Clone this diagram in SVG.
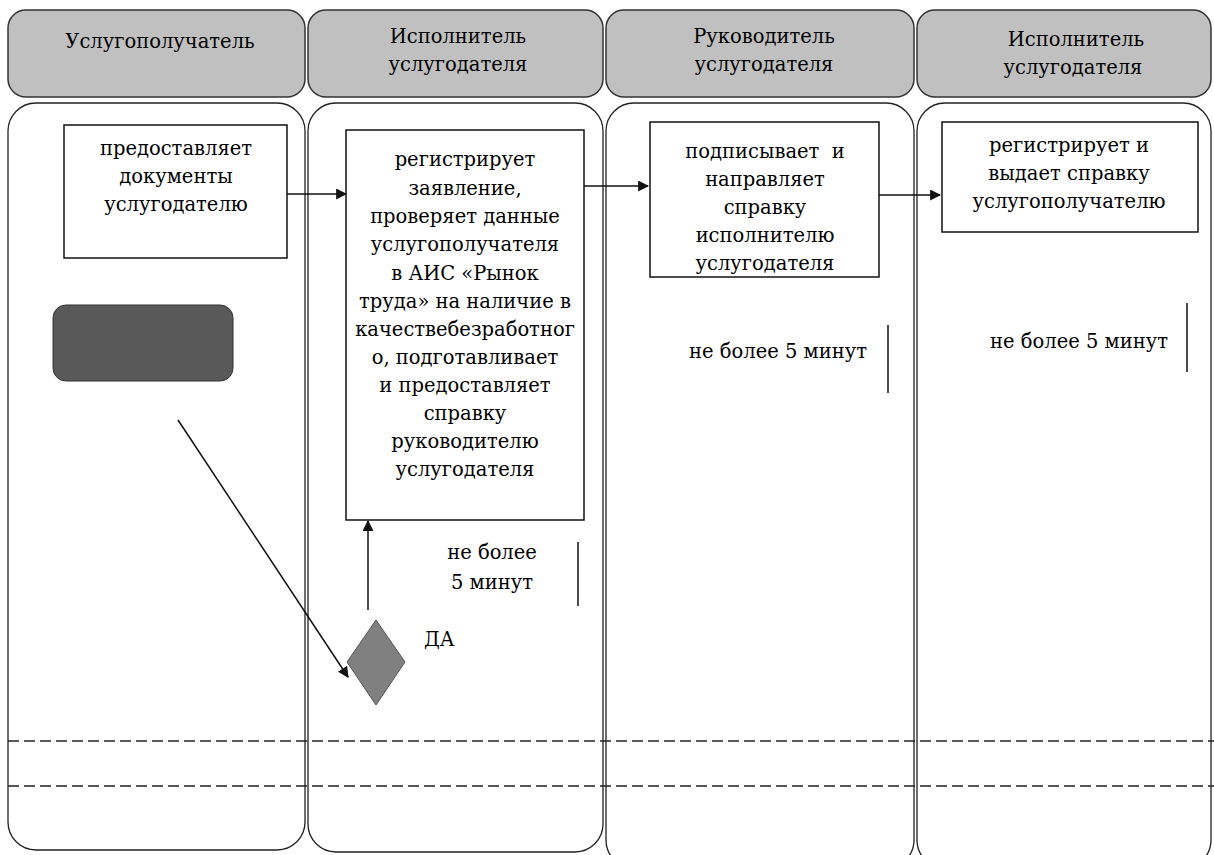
<svg xmlns="http://www.w3.org/2000/svg" width="1214" height="855" viewBox="0 0 1214 855">
<style>
.hdr{fill:#c0c0c0;stroke:#333;stroke-width:1.5}
.lane{fill:#fff;stroke:#222;stroke-width:1.3}
.box{fill:#fff;stroke:#111;stroke-width:1.5}
.t{font-family:"DejaVu Serif",serif;font-size:19.5px;fill:#000;text-anchor:middle}
.tl{font-family:"DejaVu Serif",serif;font-size:19.5px;fill:#000}
.c{stroke:#111;stroke-width:1.5;fill:none}
.dash{stroke:#222;stroke-width:1.6;stroke-dasharray:11,5;fill:none}
</style>
<defs>
<marker id="ah" viewBox="0 0 10 10" refX="9" refY="5" markerWidth="11" markerHeight="11" markerUnits="userSpaceOnUse" orient="auto">
<path d="M0,0 L10,5 L0,10 z" fill="#111"/>
</marker>
</defs>
<g id="lane1">
<rect class="hdr" x="8" y="10" width="297" height="87" rx="18"/>
<rect class="lane" x="8" y="103" width="297" height="747" rx="28"/>
<text class="t" x="160" y="48">Услугополучатель</text>
</g>
<g id="lane2">
<rect class="hdr" x="308" y="10" width="295" height="87" rx="18"/>
<rect class="lane" x="308" y="103" width="295" height="749" rx="28"/>
<text class="t" x="458" y="43">Исполнитель</text>
<text class="t" x="458" y="71">услугодателя</text>
</g>
<g id="lane3">
<rect class="hdr" x="606" y="10" width="308" height="87" rx="18"/>
<rect class="lane" x="606" y="103" width="308" height="765" rx="28"/>
<text class="t" x="764" y="43">Руководитель</text>
<text class="t" x="764" y="71">услугодателя</text>
</g>
<g id="lane4">
<rect class="hdr" x="917" y="10" width="294" height="87" rx="18"/>
<rect class="lane" x="917" y="103" width="294" height="765" rx="28"/>
<text class="t" x="1076" y="46">Исполнитель</text>
<text class="t" x="1073" y="74">услугодателя</text>
</g>
<g id="separators">
<line class="dash" x1="8" y1="741" x2="1214" y2="741"/>
<line class="dash" x1="8" y1="786" x2="1214" y2="786"/>
</g>
<g id="start">
<rect x="53" y="305" width="180" height="76" rx="13" fill="#595959" stroke="#333" stroke-width="1"/>
</g>
<g id="box1">
<rect class="box" x="64" y="125" width="223" height="133"/>
<text class="t" x="176" y="155">предоставляет</text>
<text class="t" x="176" y="183">документы</text>
<text class="t" x="176" y="211">услугодателю</text>
</g>
<g id="box2">
<rect class="box" x="346" y="130" width="238" height="390"/>
<text class="t" x="465" y="166">регистрирует</text>
<text class="t" x="465" y="195">заявление,</text>
<text class="t" x="465" y="223">проверяет данные</text>
<text class="t" x="465" y="251">услугополучателя</text>
<text class="t" x="465" y="280">в АИС «Рынок</text>
<text class="t" x="465" y="308">труда» на наличие в</text>
<text class="t" x="465" y="336">качествебезработног</text>
<text class="t" x="465" y="364">о, подготавливает</text>
<text class="t" x="465" y="392">и предоставляет</text>
<text class="t" x="465" y="420">справку</text>
<text class="t" x="465" y="448">руководителю</text>
<text class="t" x="465" y="476">услугодателя</text>
</g>
<g id="box3">
<rect class="box" x="650" y="122" width="229" height="155"/>
<text class="t" x="765" y="158" xml:space="preserve">подписывает  и</text>
<text class="t" x="765" y="186">направляет</text>
<text class="t" x="765" y="214">справку</text>
<text class="t" x="765" y="242">исполнителю</text>
<text class="t" x="765" y="270">услугодателя</text>
</g>
<g id="box4">
<rect class="box" x="942" y="122" width="256" height="110"/>
<text class="t" x="1069" y="152">регистрирует и</text>
<text class="t" x="1069" y="180">выдает справку</text>
<text class="t" x="1069" y="208">услугополучателю</text>
</g>
<g id="decision">
<polygon points="376,620 405,662 376,705 347,662" fill="#808080" stroke="#555" stroke-width="1"/>
<text class="tl" x="424" y="646">ДА</text>
</g>
<g id="time1">
<text class="t" x="492" y="559">не более</text>
<text class="t" x="492" y="589">5 минут</text>
<line class="c" x1="578" y1="542" x2="578" y2="606"/>
</g>
<g id="time2">
<text class="t" x="778" y="358">не более 5 минут</text>
<line class="c" x1="888" y1="325" x2="888" y2="393"/>
</g>
<g id="time3">
<text class="t" x="1079" y="348">не более 5 минут</text>
<line class="c" x1="1187" y1="303" x2="1187" y2="372"/>
</g>
<g id="connectors">
<line class="c" x1="287" y1="194" x2="346" y2="194" marker-end="url(#ah)"/>
<line class="c" x1="584" y1="186" x2="648" y2="186" marker-end="url(#ah)"/>
<line class="c" x1="879" y1="195" x2="940" y2="195" marker-end="url(#ah)"/>
<line class="c" x1="178" y1="420" x2="348" y2="677" marker-end="url(#ah)"/>
<line class="c" x1="368" y1="610" x2="368" y2="521" marker-end="url(#ah)"/>
</g>
</svg>
